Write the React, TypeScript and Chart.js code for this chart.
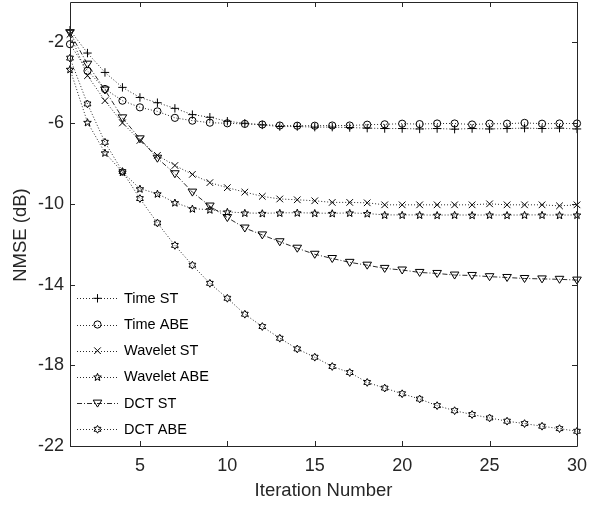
import React, { useEffect, useRef } from "react";
import { Chart, registerables } from "chart.js";

Chart.register(...registerables);

const iterations = [1, 2, 3, 4, 5, 6, 7, 8, 9, 10, 11, 12, 13, 14, 15, 16, 17, 18, 19, 20, 21, 22, 23, 24, 25, 26, 27, 28, 29, 30];
const xTickValues = [5, 10, 15, 20, 25, 30];
const yTickValues = [-22, -18, -14, -10, -6, -2];
const seriesNames = ["Time ST", "Time ABE", "Wavelet ST", "Wavelet ABE", "DCT ST", "DCT ABE"];

const timeST = [-1.4, -2.53, -3.49, -4.23, -4.73, -4.99, -5.27, -5.58, -5.71, -5.91, -6.01, -6.09, -6.17, -6.17, -6.2, -6.2, -6.22, -6.25, -6.27, -6.27, -6.29, -6.27, -6.3, -6.27, -6.29, -6.27, -6.25, -6.27, -6.25, -6.29];
const timeABE = [-2.09, -3.41, -4.31, -4.89, -5.22, -5.42, -5.74, -5.88, -5.98, -6.01, -6.04, -6.07, -6.12, -6.13, -6.13, -6.12, -6.12, -6.08, -6.06, -6.03, -6.05, -6.02, -6.02, -6.07, -6.03, -6.03, -5.99, -6.03, -6.02, -6.02];
const waveletST = [-1.6, -3.65, -4.89, -5.99, -6.86, -7.6, -8.1, -8.54, -8.95, -9.2, -9.42, -9.63, -9.76, -9.8, -9.85, -9.93, -9.93, -9.95, -10.05, -10.05, -10.05, -10.05, -10.05, -10.05, -10.0, -10.05, -10.05, -10.05, -10.1, -10.05];
const waveletABE = [-3.33, -5.96, -7.47, -8.43, -9.25, -9.5, -9.94, -10.24, -10.29, -10.4, -10.45, -10.47, -10.45, -10.44, -10.46, -10.47, -10.45, -10.48, -10.55, -10.55, -10.55, -10.56, -10.55, -10.56, -10.55, -10.56, -10.55, -10.55, -10.56, -10.55];
const dctST = [-1.52, -3.08, -4.36, -5.74, -6.78, -7.74, -8.51, -9.42, -10.11, -10.68, -11.2, -11.54, -11.88, -12.2, -12.5, -12.71, -12.9, -13.04, -13.2, -13.28, -13.4, -13.45, -13.53, -13.55, -13.61, -13.65, -13.7, -13.72, -13.74, -13.78];
const dctABE = [-2.78, -5.05, -6.95, -8.4, -9.74, -10.95, -12.06, -13.04, -13.94, -14.68, -15.47, -16.08, -16.66, -17.19, -17.6, -18.06, -18.36, -18.85, -19.13, -19.41, -19.67, -20.0, -20.25, -20.44, -20.61, -20.77, -20.89, -21.02, -21.14, -21.27];

type MarkerKind = "plus" | "circle" | "x" | "pentagram" | "triangleDown" | "hexagram";

const seriesValues = [timeST, timeABE, waveletST, waveletABE, dctST, dctABE];
const seriesMarkers: MarkerKind[] = ["plus", "circle", "x", "pentagram", "triangleDown", "hexagram"];
const dotted = [1, 2];
const dashDot = [5, 2, 1, 2];
const seriesDashes = [dotted, dotted, dotted, dotted, dashDot, dotted];

const FONT = "'Liberation Sans', Arial, Helvetica, sans-serif";
const AXIS_COLOR = "#262626";
const LINE_COLOR = "#2a2a2a";

function starPath(ctx: CanvasRenderingContext2D, cx: number, cy: number, n: number, ro: number, ri: number) {
  for (let i = 0; i < n * 2; i++) {
    const r = i % 2 === 0 ? ro : ri;
    const a = -Math.PI / 2 + (i * Math.PI) / n;
    const px = cx + r * Math.cos(a);
    const py = cy + r * Math.sin(a);
    if (i === 0) ctx.moveTo(px, py);
    else ctx.lineTo(px, py);
  }
  ctx.closePath();
}

function drawMarker(ctx: CanvasRenderingContext2D, kind: MarkerKind, cx: number, cy: number) {
  ctx.save();
  ctx.setLineDash([]);
  ctx.strokeStyle = "#000";
  ctx.lineWidth = 1;
  ctx.beginPath();
  if (kind === "plus") {
    const r = 4.2;
    ctx.moveTo(cx - r, cy);
    ctx.lineTo(cx + r, cy);
    ctx.moveTo(cx, cy - r);
    ctx.lineTo(cx, cy + r);
  } else if (kind === "circle") {
    ctx.arc(cx, cy, 3.6, 0, Math.PI * 2);
  } else if (kind === "x") {
    const r = 3.3;
    ctx.moveTo(cx - r, cy - r);
    ctx.lineTo(cx + r, cy + r);
    ctx.moveTo(cx + r, cy - r);
    ctx.lineTo(cx - r, cy + r);
  } else if (kind === "pentagram") {
    starPath(ctx, cx, cy + 0.4, 5, 4.0, 1.7);
  } else if (kind === "triangleDown") {
    ctx.moveTo(cx - 4.3, cy - 3.0);
    ctx.lineTo(cx + 4.3, cy - 3.0);
    ctx.lineTo(cx, cy + 4.0);
    ctx.closePath();
  } else if (kind === "hexagram") {
    starPath(ctx, cx, cy, 6, 3.9, 2.25);
  }
  ctx.stroke();
  ctx.restore();
}

export default function App() {
  const canvasRef = useRef<HTMLCanvasElement | null>(null);

  useEffect(() => {
    const canvas = canvasRef.current;
    if (!canvas) return;

    const datasets = seriesNames.map((name, i) => ({
      label: name,
      data: iterations.map((x, j) => ({ x, y: seriesValues[i][j] })),
      borderColor: LINE_COLOR,
      borderWidth: 1,
      borderDash: seriesDashes[i],
      backgroundColor: "rgba(0,0,0,0)",
      pointRadius: 0,
      pointHoverRadius: 0,
      tension: 0,
      fill: false,
      clip: false as any,
    }));

    const markerPlugin = {
      id: "markerPlugin",
      afterDatasetsDraw(chart: any) {
        const ctx: CanvasRenderingContext2D = chart.ctx;
        seriesMarkers.forEach((kind, i) => {
          const meta = chart.getDatasetMeta(i);
          meta.data.forEach((el: any) => {
            drawMarker(ctx, kind, el.x, el.y);
          });
        });
      },
    };

    const framePlugin = {
      id: "framePlugin",
      afterDraw(chart: any) {
        const ctx: CanvasRenderingContext2D = chart.ctx;
        const { left, right, top, bottom } = chart.chartArea;
        const xs = chart.scales.x;
        const ys = chart.scales.y;
        ctx.save();
        ctx.strokeStyle = AXIS_COLOR;
        ctx.lineWidth = 1;
        ctx.setLineDash([]);
        ctx.beginPath();
        ctx.rect(Math.round(left) + 0.5, Math.round(top) + 0.5, Math.round(right - left), Math.round(bottom - top));
        ctx.stroke();
        const tl = 5;
        ctx.beginPath();
        for (const v of xTickValues) {
          const px = Math.round(xs.getPixelForValue(v)) + 0.5;
          ctx.moveTo(px, bottom);
          ctx.lineTo(px, bottom - tl);
          ctx.moveTo(px, top);
          ctx.lineTo(px, top + tl);
        }
        for (const v of yTickValues) {
          const py = Math.round(ys.getPixelForValue(v)) + 0.5;
          ctx.moveTo(left, py);
          ctx.lineTo(left + tl, py);
          ctx.moveTo(right, py);
          ctx.lineTo(right - tl, py);
        }
        ctx.stroke();

        // axis titles
        ctx.fillStyle = AXIS_COLOR;
        ctx.font = `18.5px ${FONT}`;
        ctx.textAlign = "center";
        ctx.textBaseline = "middle";
        ctx.fillText("Iteration Number", (left + right) / 2, 491);
        ctx.save();
        ctx.translate(21, 235);
        ctx.rotate(-Math.PI / 2);
        ctx.fillText("NMSE (dB)", 0, 0);
        ctx.restore();

        // legend
        const startY = 298.3;
        const step = 26.2;
        ctx.font = `14.5px ${FONT}`;
        ctx.textAlign = "left";
        ctx.textBaseline = "middle";
        seriesNames.forEach((name, i) => {
          const y = startY + i * step;
          ctx.save();
          ctx.strokeStyle = LINE_COLOR;
          ctx.lineWidth = 1;
          ctx.setLineDash(seriesDashes[i]);
          ctx.beginPath();
          ctx.moveTo(77, Math.round(y) + 0.5);
          ctx.lineTo(118, Math.round(y) + 0.5);
          ctx.stroke();
          ctx.restore();
          drawMarker(ctx, seriesMarkers[i], 97.5, y);
          ctx.fillStyle = "#000";
          ctx.fillText(name, 124, y + 0.5);
        });
        ctx.restore();
      },
    };

    const chart = new Chart(canvas, {
      type: "line",
      data: { datasets: datasets as any },
      options: {
        animation: false,
        responsive: false,
        maintainAspectRatio: false,
        events: [],
        layout: { padding: { top: 2, right: 28, left: 0, bottom: 0 } },
        plugins: {
          legend: { display: false },
          tooltip: { enabled: false },
          title: { display: false },
        },
        scales: {
          x: {
            type: "linear",
            min: 1,
            max: 30,
            grid: { display: false, drawTicks: false },
            border: { display: false },
            ticks: {
              font: { family: FONT, size: 18 },
              color: AXIS_COLOR,
              padding: 9,
              maxRotation: 0,
              autoSkip: false,
            },
            afterBuildTicks(scale: any) {
              scale.ticks = xTickValues.map((v) => ({ value: v }));
            },
            afterFit(scale: any) {
              scale.height = 63;
              scale.paddingLeft = 0;
              scale.paddingRight = 0;
            },
          },
          y: {
            type: "linear",
            min: -22,
            max: 0,
            grid: { display: false, drawTicks: false },
            border: { display: false },
            ticks: {
              font: { family: FONT, size: 18 },
              color: AXIS_COLOR,
              padding: 6,
              autoSkip: false,
            },
            afterBuildTicks(scale: any) {
              scale.ticks = yTickValues.map((v) => ({ value: v }));
            },
            afterFit(scale: any) {
              scale.width = 70;
              scale.paddingTop = 0;
              scale.paddingBottom = 0;
            },
          },
        },
      },
      plugins: [markerPlugin, framePlugin],
    });

    return () => {
      chart.destroy();
    };
  }, []);

  return (
    <div style={{ position: "fixed", left: 0, top: 0, width: 605, height: 509, background: "#fff" }}>
      <canvas ref={canvasRef} width={605} height={509} style={{ width: 605, height: 509, display: "block" }} />
    </div>
  );
}
